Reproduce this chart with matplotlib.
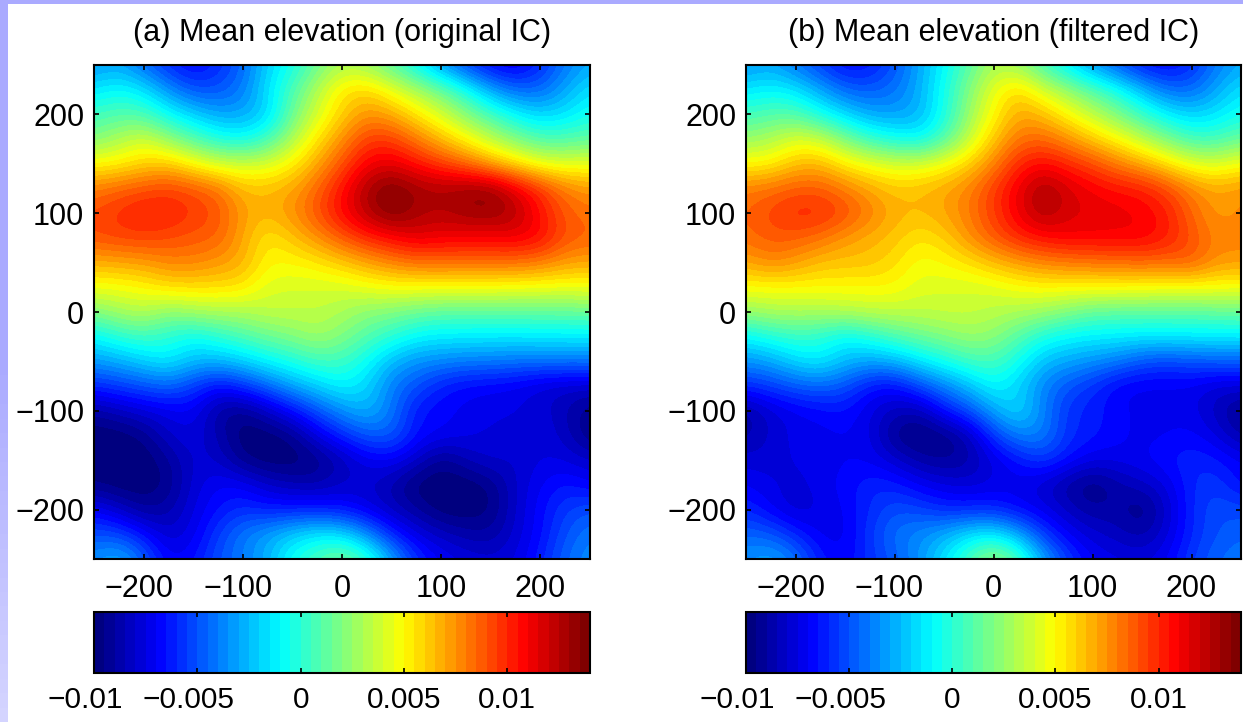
import numpy as np
import matplotlib
matplotlib.use('Agg')
import matplotlib.pyplot as plt
from matplotlib.colors import LinearSegmentedColormap, BoundaryNorm
from matplotlib.transforms import ScaledTranslation

plt.rcParams['font.family'] = ['Liberation Sans', 'DejaVu Sans']

# grid of the two maps (rows run from y=250 down to y=-250), values in units of 1e-3
x_vals = [-250, -225, -200, -175, -150, -125, -100, -75, -50, -25, 0, 25, 50, 75, 100, 125, 150, 175, 200, 225, 250]
y_vals = [250, 225, 200, 175, 150, 125, 100, 75, 50, 25, 0, -25, -50, -75, -100, -125, -150, -175, -200, -225, -250]

elev_original = [
    [-3.5, -3, -4.5, -6, -7, -6, -4.5, -2, -0.5, 1.5, 3, 2.5, 1, -1, -3.5, -5.5, -7, -7.5, -6, -4, -3],
    [-1.5, -0.8, -1.5, -3.5, -5, -5, -4, -1.5, 0.8, 3.2, 5.5, 6, 4.5, 3, 1.5, -0.5, -3, -4.5, -4.5, -3, -1.5],
    [0.5, 1, 0.8, -0.8, -2, -3, -3, -2, 1.5, 4, 6, 7.5, 7, 5.5, 4, 2.2, 0.5, -1, -2, -1.5, -0.5],
    [2, 3, 4, 2.5, 1, -0.3, -0.8, 0.5, 3, 5.5, 7.5, 9.5, 9.5, 8, 6.5, 5, 3.5, 2, 0.8, 0.8, 1.2],
    [5, 5.2, 6, 6.3, 5, 4, 3.8, 4, 5.2, 7, 9, 11, 11.5, 10.5, 9.5, 8.5, 7, 5.8, 4.5, 4.2, 4.5],
    [8, 8.6, 9, 9.4, 9, 8.3, 6.5, 6.5, 7, 8.5, 10.5, 12.8, 14, 13, 12.8, 13.2, 13.4, 11.5, 9.8, 8, 7.3],
    [9.2, 9.8, 10.4, 10.3, 9.6, 9, 7.2, 6.6, 7.5, 9, 10.8, 12.5, 13.9, 12.8, 12.4, 13, 13.2, 12.6, 10.5, 8.8, 8.2],
    [9, 9.3, 9.4, 9.1, 8.8, 8.6, 7, 5.3, 6.3, 7.5, 8.8, 10, 10.7, 11.5, 11.2, 11, 11, 11.2, 10.8, 9, 8.6],
    [6.8, 7, 7.2, 7.8, 7.8, 7.3, 6.8, 5, 5, 5.4, 6.2, 7, 7.8, 8.3, 8.3, 8.3, 8.3, 8.3, 8, 7.2, 7],
    [4.6, 4.7, 5, 5.7, 5.7, 5.7, 5.5, 4.2, 4, 4, 4, 4.5, 4.8, 4.8, 4.8, 4.8, 4.8, 4.7, 4.6, 4.6, 4.7],
    [2, 2.8, 3.3, 2.2, 2.8, 3, 3, 3.5, 3.5, 3.5, 3, 2.2, 2, 1.5, 1.2, 1.2, 1.2, 1.2, 1.3, 1.3, 1.4],
    [-1, 0, 0.5, 0, -0.8, 0, 0.8, 1.5, 2, 2.8, 2, 1, 0, -1, -1.3, -1.3, -1.4, -1.4, -1.3, -1.3, -1.2],
    [-3.3, -2.8, -2, -1.3, -2.5, -2.6, -2, -1, -0.3, 0.5, 0.5, -0.8, -2.6, -3.5, -3.7, -4, -4, -4.2, -4.2, -4.2, -4.2],
    [-6, -5.5, -5, -4.5, -5.5, -6.8, -5.8, -4.5, -3, -2, -1, -1.8, -4, -5, -6.3, -6.8, -7, -7.2, -7.8, -8, -8],
    [-9, -8.3, -7.7, -7.3, -7, -9, -9.5, -8.2, -6.7, -5, -3.5, -2.5, -4, -6.5, -6.8, -7.2, -7.4, -7.5, -7.7, -8.5, -9.5],
    [-10, -10, -9.5, -8, -7.5, -8.6, -10, -10, -9.5, -7.5, -6, -4.8, -4.6, -6.5, -7, -7.3, -7.6, -7.7, -7.5, -8.2, -9.7],
    [-10, -10, -10, -9.2, -7.8, -8, -9.5, -10, -10, -9.6, -8.5, -7.3, -7, -8, -9.6, -8.5, -7.8, -8, -7.5, -7.5, -8],
    [-9.6, -10, -10, -9.5, -7.8, -6.9, -7, -8, -8.5, -8.7, -8, -8, -8.7, -10, -10, -10, -9.6, -8, -7, -6.3, -7],
    [-7, -8, -9.2, -8.8, -7.5, -6.5, -5.8, -6.3, -6.2, -6.2, -6.5, -7.3, -8.3, -9, -10, -10, -9.7, -8, -6.7, -5.5, -5],
    [-5, -5.2, -6.5, -8, -7.3, -5.5, -4, -3, -2, -1.3, -1.5, -3.5, -6, -7.5, -8.2, -8.8, -9, -7.8, -6.7, -5, -4],
    [-3.5, -2.5, -4.5, -7, -6.6, -5, -4, -2.8, -0.5, 0.8, 2, 0.5, -2.8, -5.8, -7, -7.5, -7.8, -7.5, -6.2, -4.5, -3.5],
]

elev_filtered = [
    [-3.5, -3, -4.2, -5.5, -6.8, -6.5, -5, -3, -1, 1, 3, 2.5, 0.5, -1.5, -3.5, -5, -6.5, -7, -6, -4, -3],
    [-1.5, -1, -1.5, -3, -4.5, -4.8, -4.2, -2.8, -0.5, 2, 4.5, 6, 4, 2.5, 1, -0.5, -2.5, -4.3, -4.5, -3, -1.5],
    [0.5, 1, 1, -0.5, -1.8, -3, -3.2, -2.8, -0.5, 2.5, 5, 7, 6.5, 5, 3.5, 2, 0.3, -1.2, -2, -1.5, -0.5],
    [2.5, 3, 4.2, 3.8, 2, 0.3, -0.5, -1, 0.8, 3.5, 6.2, 8.2, 8.5, 7.5, 6.2, 5, 3.5, 2, 0.5, 0.5, 1.5],
    [5, 5.2, 6.5, 6.7, 5.3, 4.6, 4, 4, 4.8, 6, 7.8, 10, 10.8, 10, 9.2, 8, 7, 5.7, 4.4, 4, 4.8],
    [8, 8.3, 8.8, 8.8, 8, 7, 6.3, 6.5, 7, 7.8, 9.5, 11.2, 13, 11.8, 11, 10.5, 10.3, 9.3, 7.8, 7, 7.5],
    [8.5, 9.3, 10, 10, 9.2, 8, 6.8, 6.5, 7, 8, 9.5, 11.2, 12.8, 11.7, 11.5, 11.3, 11, 10.3, 8.5, 7.2, 7.6],
    [8.3, 8.8, 8.7, 8.2, 7.3, 6.7, 6.3, 5.4, 6, 7.5, 8.8, 10, 10.6, 11, 11, 11, 11, 10.3, 9, 7.8, 7.8],
    [7, 7.8, 7.2, 6.4, 6.3, 6.3, 5.7, 4.7, 5, 5.6, 6.5, 7.2, 7.8, 8, 8.2, 8.3, 8.5, 8.4, 8.8, 7.4, 7.3],
    [4.9, 4.9, 5, 5, 5, 5, 5, 4.2, 4.1, 4, 4.2, 4.8, 5, 5, 5, 5, 4.9, 4.8, 4.8, 4.8, 4.8],
    [2.5, 3, 3, 3, 3.2, 3.5, 3.5, 3.5, 3.7, 3.7, 3.3, 3, 2.7, 2, 1.3, 1.2, 1.2, 1.2, 1.2, 1.3, 1.4],
    [-1, -0.2, 0.3, 0, -1, -0.2, 0.8, 1.5, 2, 2.6, 2.3, 1, -0.3, -1, -1.2, -1.3, -1.4, -1.4, -1.3, -1.3, -1.2],
    [-3.5, -3, -1.8, -1.2, -2.5, -3, -2.7, -1.5, -0.5, 0.5, 0.7, -0.5, -2.5, -3, -3.5, -4, -5, -5.3, -5, -4.8, -4.8],
    [-6, -5.5, -4.8, -4.5, -5, -6.5, -6.8, -5.2, -3.8, -2.5, -0.8, -2, -3.8, -5, -5.8, -7, -7.2, -7.2, -7.2, -7.8, -7.7],
    [-9, -7.8, -7.2, -6.8, -6.5, -7.5, -8.3, -8.7, -6.5, -5, -3, -1.5, -3.8, -5.8, -6.3, -6.8, -7.2, -7.2, -7.3, -8.3, -9.5],
    [-8.8, -7.9, -7.3, -7.2, -7, -7.3, -9.5, -9.9, -9.7, -8.6, -5.6, -3.8, -3.8, -5.8, -6.3, -6.8, -7.2, -7, -6.8, -7.5, -8.8],
    [-7.7, -7.8, -7.4, -7.3, -7, -7.1, -7.8, -8.8, -9.2, -8.8, -7.6, -6.5, -5.5, -6.5, -7.4, -7.3, -7, -6.5, -6, -6.3, -7],
    [-7, -7.4, -7.8, -7.2, -6.8, -6, -6.2, -7, -7.5, -7.8, -7.4, -7.3, -8, -9, -9.8, -8.8, -8.2, -7.5, -6, -5.5, -6.8],
    [-6, -7, -8, -7.5, -7, -6, -5, -5.3, -6, -6, -6, -6.8, -7.3, -8.2, -9, -8.8, -9.8, -8, -6, -5, -5.2],
    [-4.5, -4.8, -6, -7.2, -7.3, -5.6, -4.2, -3.6, -2.8, -1.6, -1.2, -2.8, -5.5, -7, -7.8, -8.3, -8.8, -7.7, -6, -5, -4.6],
    [-3.5, -2.8, -4, -6.3, -7, -5.8, -4.8, -3.5, -1.5, 0.8, 3, 1, -2.8, -5.5, -7, -7.3, -7.6, -7, -5.5, -4.5, -4],
]

titles = ['(a) Mean elevation (original IC)', '(b) Mean elevation (filtered IC)']
axis_ticks = [-200, -100, 0, 100, 200]
cbar_ticks = [-0.01, -0.005, 0, 0.005, 0.01]
cbar_labels = ['\u22120.01', '\u22120.005', '0', '0.005', '0.01']

W, H = 1243, 722
fontsize = 22


def px_axes(fig, left, top, right, bottom):
    return fig.add_axes([left / W, 1 - bottom / H, (right - left) / W, (bottom - top) / H])


def shift_minus_labels(fig, axis, dx_px):
    # the original centres negative labels on their digits, not on the minus sign
    for lbl in axis.get_ticklabels():
        if lbl.get_text().startswith('\u2212'):
            lbl.set_transform(lbl.get_transform() + ScaledTranslation(dx_px / 100, 0, fig.dpi_scale_trans))


# MATLAB style jet: yellow sits at 5/8, cyan at 3/8
jet_matlab = LinearSegmentedColormap.from_list('jet_matlab', [
    (0.0, (0, 0, 0.5)), (0.125, (0, 0, 1)), (0.375, (0, 1, 1)),
    (0.625, (1, 1, 0)), (0.875, (1, 0, 0)), (1.0, (0.5, 0, 0))], N=48)
levels = np.linspace(-0.01, 0.014, 49)
norm = BoundaryNorm(levels, 48)

fig = plt.figure(figsize=(W / 100, H / 100), dpi=100, facecolor='white')

# slide frame behind the figure
strip = px_axes(fig, 0, 0, 8, H)
strip.imshow(np.linspace(0, 1, 50)[:, None], cmap=LinearSegmentedColormap.from_list(
    'frame', ['#aaaaff', '#aaaaff', '#d4d4ff']), aspect='auto')
strip.axis('off')
top_strip = px_axes(fig, 0, 0, W, 4)
top_strip.set_facecolor('#aaaaff')
top_strip.set_xticks([])
top_strip.set_yticks([])
for s in top_strip.spines.values():
    s.set_visible(False)

panels = [(94, 590, elev_original), (746, 1241, elev_filtered)]
step = x_vals[1] - x_vals[0]
for (left, right, elev), title in zip(panels, titles):
    ax = px_axes(fig, left, 65, right, 559)
    z = np.array(elev) * 1e-3
    # bicubic on the data, then the stepped norm gives the filled-contour bands
    im = ax.imshow(z, cmap=jet_matlab, norm=norm, aspect='auto',
                   interpolation='bicubic', interpolation_stage='data',
                   extent=[x_vals[0] - step / 2, x_vals[-1] + step / 2,
                           y_vals[-1] - step / 2, y_vals[0] + step / 2])
    ax.set_xlim(-250, 250)
    ax.set_ylim(-250, 250)
    ax.set_xticks(axis_ticks, ['\u2212200', '\u2212100', '0', '100', '200'])
    ax.set_yticks(axis_ticks)
    ax.tick_params(direction='in', length=3.5, width=1.2, top=True, right=True, labelsize=fontsize)
    ax.tick_params(axis='x', pad=11)
    ax.tick_params(axis='y', pad=7)
    ax.set_title(title, fontsize=fontsize, pad=17)
    for s in ax.spines.values():
        s.set_linewidth(1.5)
    shift_minus_labels(fig, ax.xaxis, -5)

    cax = px_axes(fig, left, 612, right, 673)
    cb = fig.colorbar(im, cax=cax, orientation='horizontal', spacing='proportional')
    cb.set_ticks(cbar_ticks)
    cb.set_ticklabels(cbar_labels)
    cb.minorticks_off()
    cax.tick_params(direction='in', length=3.5, width=1.2, top=True, bottom=True,
                    labelsize=21.5, pad=9)
    cb.outline.set_linewidth(1.5)
    shift_minus_labels(fig, cax.xaxis, -9)

fig.savefig('out.png', dpi=100)
